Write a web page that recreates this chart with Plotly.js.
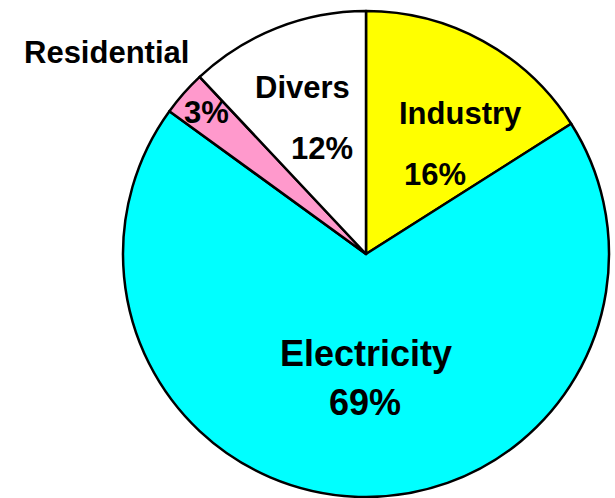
<!DOCTYPE html>
<html>
<head>
<meta charset="utf-8">
<script src="https://cdn.plot.ly/plotly-3.0.1.min.js"></script>
<style>
html,body{margin:0;padding:0;background:#fff;}
#chart{width:615px;height:498px;}
</style>
</head>
<body>
<div id="chart"></div>
<script>
// Data
var labels = ["Industry", "Electricity", "Residential", "Divers"];
var values = [16, 69, 3, 12];
var colors = ["#FFFF00", "#00FFFF", "#FF99CC", "#FFFFFF"];

// Label placement (pixel positions of name and percentage text centres)
var W = 615, H = 498;
var namePos = [[460, 114], [366, 353], [106, 53], [302, 88]];
var pctPos  = [[435, 174], [365, 402], [206, 112], [322, 149]];
var fontSizes = [31, 36, 31, 31];

var annotations = [];
for (var i = 0; i < labels.length; i++) {
  annotations.push({
    text: labels[i], xref: "paper", yref: "paper",
    x: namePos[i][0] / W, y: 1 - namePos[i][1] / H,
    xanchor: "center", yanchor: "middle", showarrow: false,
    font: {family: "Liberation Sans, Arial, sans-serif", size: fontSizes[i], color: "#000", weight: "bold"}
  });
  annotations.push({
    text: values[i] + "%", xref: "paper", yref: "paper",
    x: pctPos[i][0] / W, y: 1 - pctPos[i][1] / H,
    xanchor: "center", yanchor: "middle", showarrow: false,
    font: {family: "Liberation Sans, Arial, sans-serif", size: fontSizes[i], color: "#000", weight: "bold"}
  });
}

var trace = {
  type: "pie",
  labels: labels,
  values: values,
  sort: false,
  direction: "clockwise",
  rotation: 0,
  marker: {colors: colors, line: {color: "#000", width: 2.5}},
  textinfo: "none",
  hoverinfo: "none",
  domain: {x: [123 / W, 609 / W], y: [1 / H, 487 / H]},
  showlegend: false
};

var layout = {
  width: W, height: H,
  margin: {l: 0, r: 0, t: 0, b: 0},
  paper_bgcolor: "#fff",
  showlegend: false,
  annotations: annotations,
  font: {family: "Liberation Sans, Arial, sans-serif"}
};

Plotly.newPlot("chart", [trace], layout, {staticPlot: true});
</script>
</body>
</html>
